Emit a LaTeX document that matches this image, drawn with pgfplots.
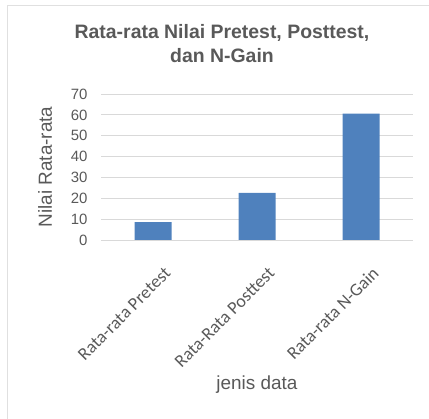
\documentclass[border=0pt]{standalone}
\usepackage{pgfplots}
\pgfplotsset{compat=1.18}
\usepackage{fontspec}
\setmainfont{Liberation Sans}
\newfontfamily\calib{Carlito}
\definecolor{barblue}{HTML}{4F81BD}
\definecolor{gridgray}{HTML}{D9D9D9}
\definecolor{txtgray}{HTML}{595959}
\definecolor{framegray}{HTML}{E0E0E0}
\begin{document}
\begin{tikzpicture}
\useasboundingbox (0bp,0bp) rectangle (429bp,419bp);
\draw[framegray, line width=1.2bp] (7.5bp,0bp) -- (7.5bp,413.5bp) -- (429bp,413.5bp);
\node[txtgray, font=\fontsize{19.5}{19.5}\selectfont\bfseries, anchor=base] at (222bp,380bp) {Rata-rata Nilai Pretest, Posttest,};
\node[txtgray, font=\fontsize{19.5}{19.5}\selectfont\bfseries, anchor=base] at (222bp,356bp) {dan N-Gain};
\node[txtgray, font=\fontsize{19}{19}\selectfont, anchor=base] at (257bp,30bp) {jenis data};
\node[txtgray, font=\fontsize{19}{19}\selectfont, rotate=90, anchor=center] at (45bp,252bp) {Nilai Rata-rata};
\begin{axis}[
  at={(101bp,179bp)}, anchor=south west,
  scale only axis, width=312bp, height=146bp,
  xmin=-0.5, xmax=2.5, ymin=0, ymax=70,
  ytick={0,10,...,70},
  xtick={0,1,2},
  xticklabels={Rata-rata Pretest, Rata-Rata Posttest, Rata-rata N-Gain},
  ymajorgrids,
  grid style={gridgray, line width=0.8bp},
  axis line style={draw=none},
  major tick length=0pt,
  /pgf/number format/assume math mode=true,
  yticklabel style={txtgray, font=\fontsize{15}{15}\selectfont, xshift=-10bp},
  xticklabel style={txtgray, font=\calib\fontsize{18}{18}\selectfont, xshift=17bp, yshift=-28bp, rotate=45, anchor=east},
  ybar, bar width=37bp,
]
\addplot[fill=barblue, draw=none] coordinates {(0,8.6) (1,22.6) (2,60.6)};
\end{axis}
\end{tikzpicture}
\end{document}
